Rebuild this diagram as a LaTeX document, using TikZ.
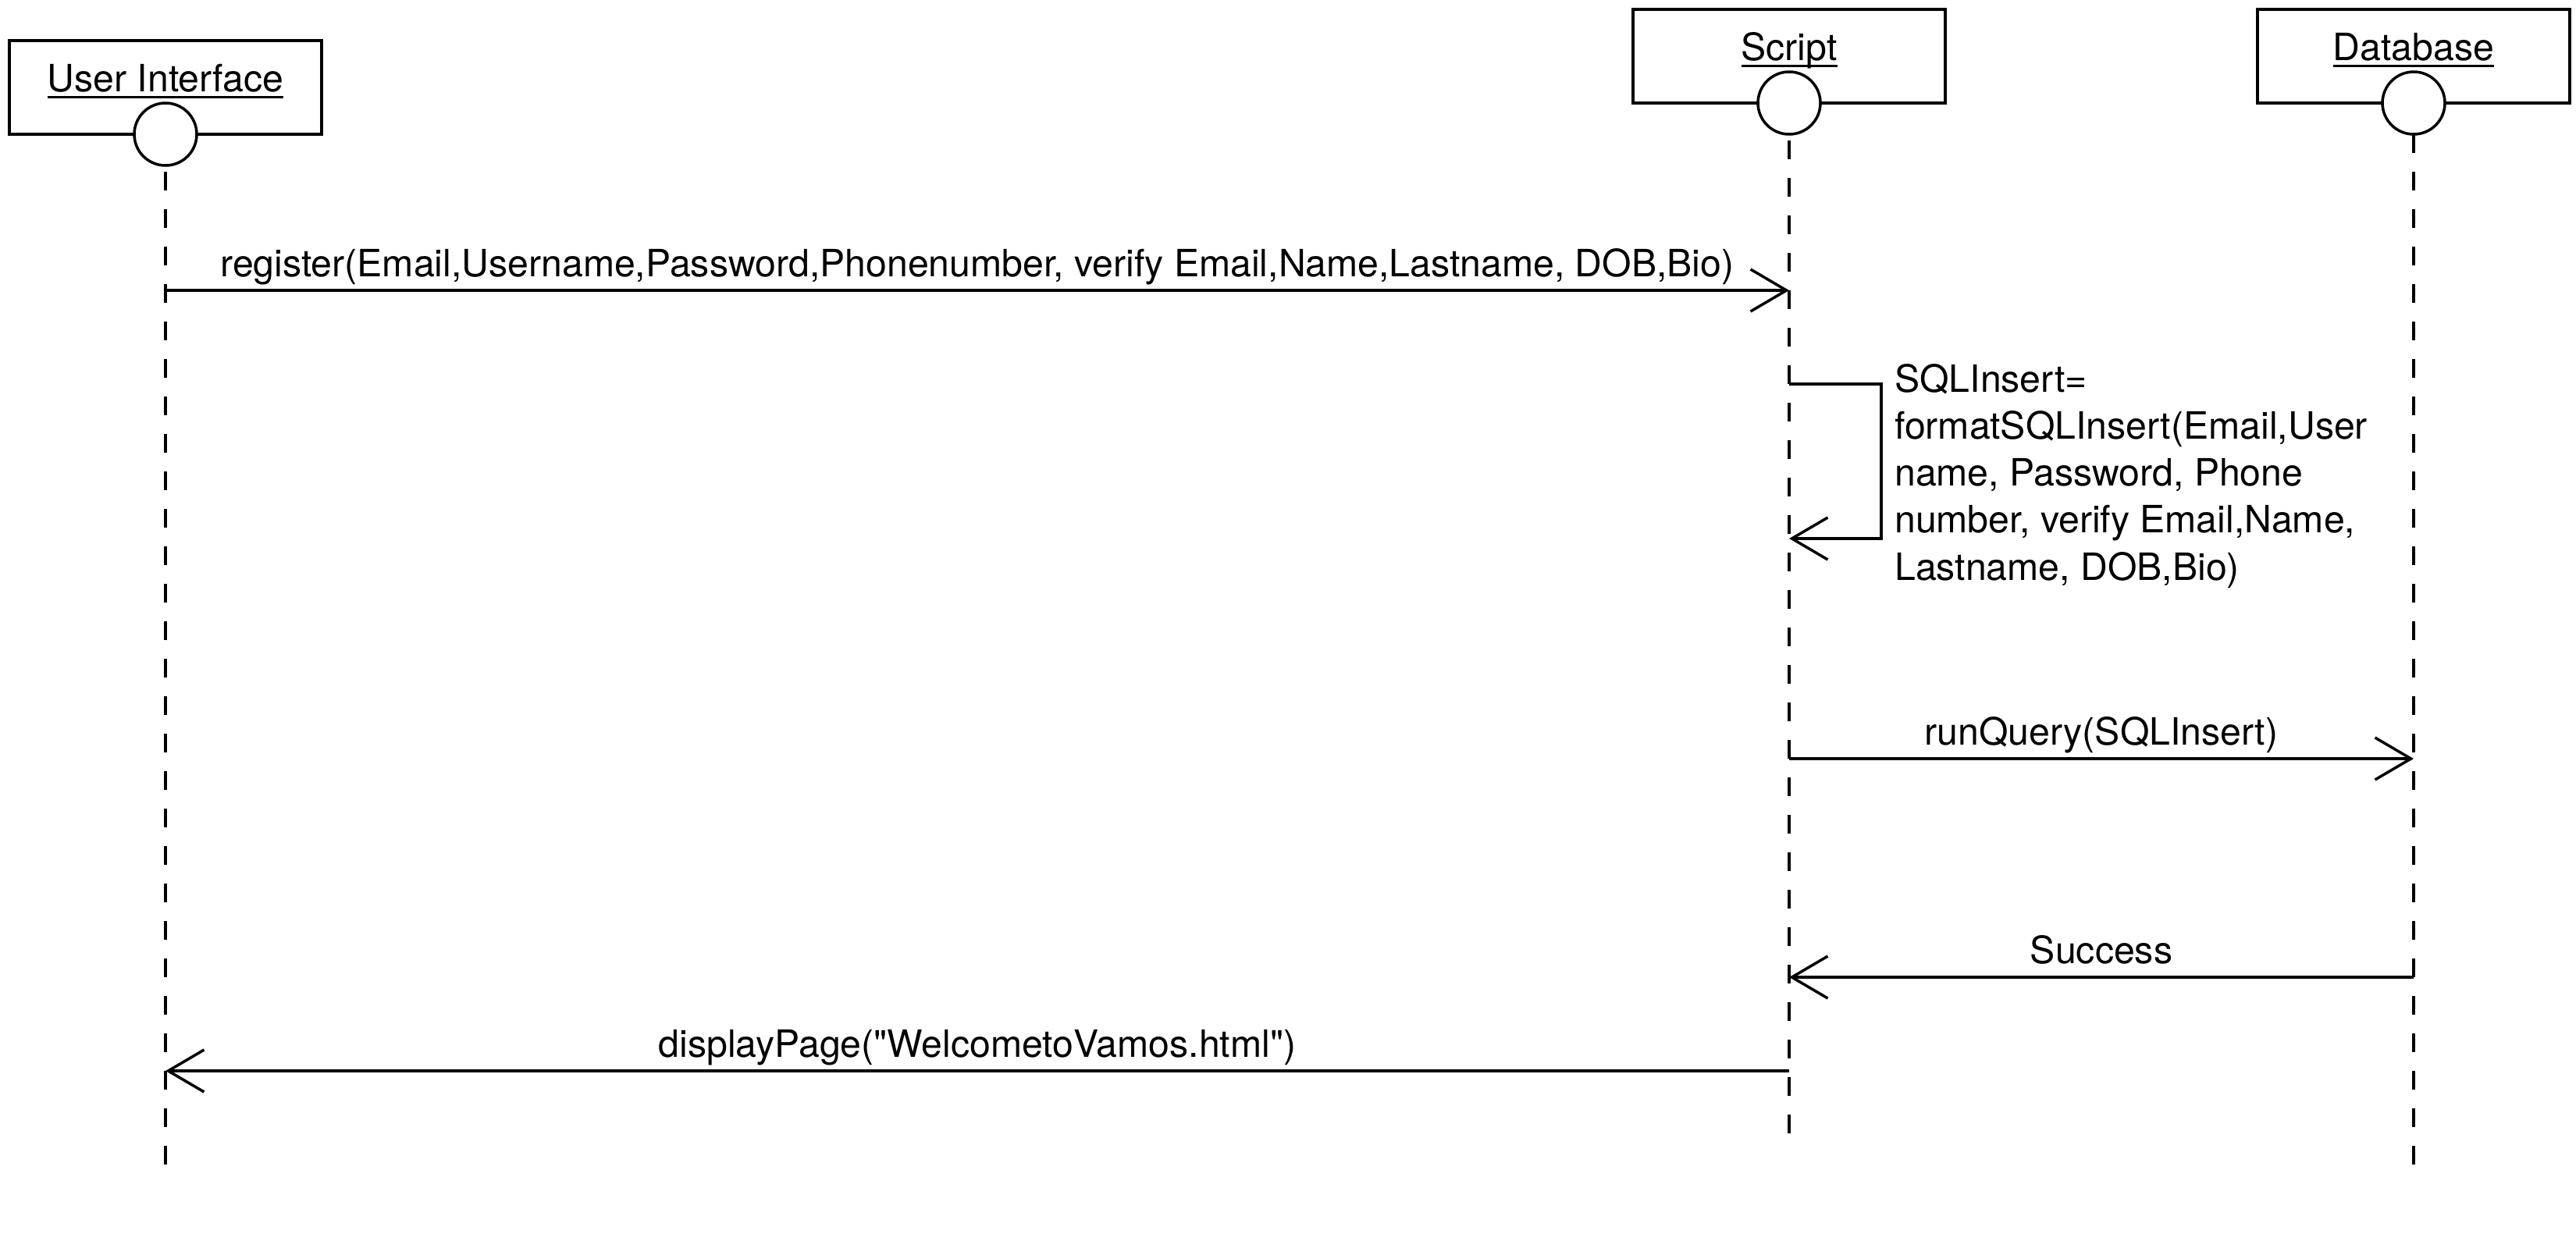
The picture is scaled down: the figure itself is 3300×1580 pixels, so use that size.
\documentclass[tikz,border=0pt]{standalone}
\usepackage{fontspec}
\setmainfont{TeX Gyre Heros}[Ligatures=TeXOff]
\usetikzlibrary{arrows.meta,backgrounds}
\def\ulx#1{\setbox0\hbox{#1}\rlap{\vrule height -5.5pt depth 8.5pt width \wd0}\box0}
\begin{document}
\begin{tikzpicture}[x=1pt,y=-1pt,font=\fontsize{48.2}{60.2}\selectfont,
  hdr/.style={draw,line width=3.5pt,fill=white,minimum width=400pt,minimum height=120pt,inner sep=0,outer sep=0},
  circ/.style={draw,circle,line width=3.5pt,fill=white,minimum size=80pt,inner sep=0,outer sep=0},
  life/.style={line width=3.5pt,dash pattern=on 24pt off 24pt},
  msg/.style={line width=3.5pt,-{Straight Barb[length=46pt,width=54pt]}},
  lbl/.style={anchor=base,inner sep=0,midway,yshift=18pt}]
\useasboundingbox (0,0) rectangle (3300,1580);
% participants
\node[hdr] (ui) at (212,112) {};
\node[hdr] (sc) at (2292,72) {};
\node[hdr] (db) at (3092,72) {};
\node[anchor=base,inner sep=0] (uit) at (212,117) {\ulx{User Interface}};
\node[anchor=base,inner sep=0] (sct) at (2292,77) {\ulx{Script}};
\node[anchor=base,inner sep=0] (dbt) at (3092,77) {\ulx{Database}};
\node[circ] (uic) at (ui.south) {};
\node[circ] (scc) at (sc.south) {};
\node[circ] (dbc) at (db.south) {};
% lifeline ends
\coordinate (uiend) at (212,1492);
\coordinate (scend) at (2292,1452);
\coordinate (dbend) at (3092,1492);
\begin{scope}[on background layer]
\fill[white] (0,0) rectangle (3300,1580);
\draw[life] (uic.center) -- (uiend);
\draw[life] (scc.center) -- (scend);
\draw[life,dash phase=8pt] (dbc.center) -- (dbend);
\end{scope}
% message points
\coordinate (m1a) at (212,372);
\coordinate (m1b) at (2292,372);
\coordinate (s1) at (2292,492);
\coordinate (s2) at (2410,492);
\coordinate (s3) at (2410,690);
\coordinate (s4) at (2292,690);
\coordinate (m3a) at (2292,972);
\coordinate (m3b) at (3092,972);
\coordinate (m4a) at (3092,1252);
\coordinate (m4b) at (2292,1252);
\coordinate (m5a) at (2292,1372);
\coordinate (m5b) at (212,1372);
\draw[msg] (m1a) -- node[lbl] (l1) {register(Email,Username,Password,Phonenumber, verify Email,Name,Lastname, DOB,Bio)} (m1b);
\draw[msg] (s1) -- (s2) -- (s3) -- (s4);
\node[anchor=north west,inner sep=0,align=left] (l2) at (2427,466) {SQLInsert=\\formatSQLInsert(Email,User\\name, Password, Phone\\number, verify Email,Name,\\Lastname, DOB,Bio)};
\draw[msg] (m3a) -- node[lbl] (l3) {runQuery(SQLInsert)} (m3b);
\draw[msg] (m4a) -- node[lbl] (l4) {Success} (m4b);
\draw[msg] (m5a) -- node[lbl] (l5) {displayPage("WelcometoVamos.html")} (m5b);
\end{tikzpicture}
\end{document}
